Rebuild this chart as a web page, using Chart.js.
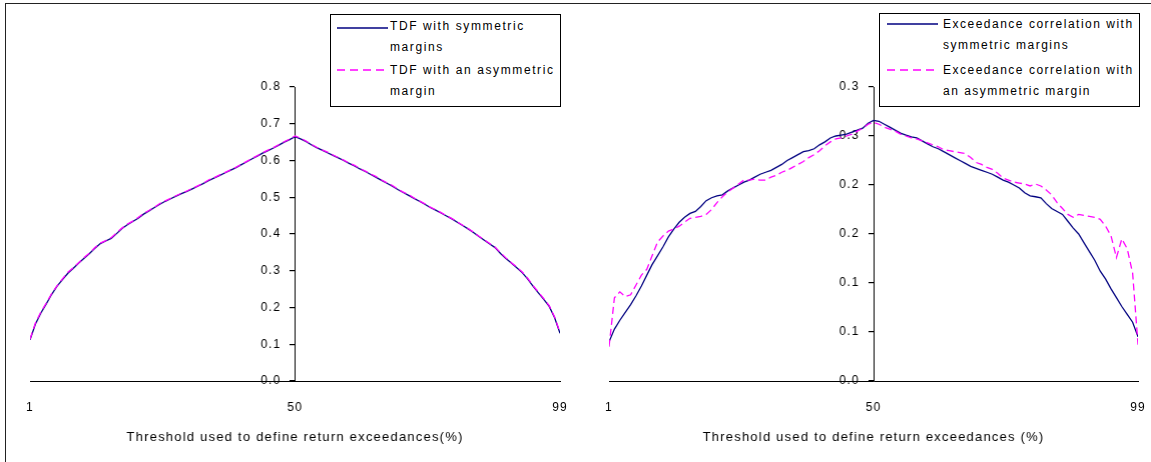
<!DOCTYPE html>
<html><head><meta charset="utf-8">
<script src="https://cdn.jsdelivr.net/npm/chart.js@4.4.1/dist/chart.umd.min.js"></script>
<style>
html,body{margin:0;padding:0;background:#fff;}
body{width:1151px;height:462px;position:relative;overflow:hidden;font-family:"Liberation Sans",Arial,sans-serif;}
.frame{position:absolute;left:5px;top:3px;width:1146px;height:459px;border-top:1px solid #222;border-left:1px solid #222;box-sizing:border-box;}
.panel{position:absolute;top:0;height:462px;}
.legend{position:absolute;border:1px solid #000;background:#fff;box-sizing:border-box;}
.txt{position:absolute;font-size:12px;line-height:21px;white-space:nowrap;color:#000;letter-spacing:1.6px;}
svg.sample{position:absolute;overflow:visible;}
</style></head><body>
<div class="frame"></div>
<div class="panel" id="p1" style="left:0px;width:580px;"><canvas id="c1"></canvas></div>
<div class="panel" id="p2" style="left:580px;width:571px;"><canvas id="c2"></canvas></div>

<div class="legend" style="left:330px;top:14px;width:231px;height:93px;"></div>
<svg class="sample" style="left:337px;top:26px;" width="51" height="4"><line x1="0" y1="2" x2="51" y2="2" stroke="#000080" stroke-width="1.5"/></svg>
<div class="txt" style="left:390px;top:15.5px;">TDF with symmetric<br>margins</div>
<svg class="sample" style="left:337px;top:68px;" width="51" height="4"><line x1="0" y1="2" x2="51" y2="2" stroke="#FF00FF" stroke-width="1.5" stroke-dasharray="8 5"/></svg>
<div class="txt" style="left:390px;top:59.5px;">TDF with an asymmetric<br>margin</div>

<div class="legend" style="left:879px;top:13px;width:261px;height:94px;"></div>
<svg class="sample" style="left:887px;top:22px;" width="51" height="4"><line x1="0" y1="2" x2="51" y2="2" stroke="#000080" stroke-width="1.5"/></svg>
<div class="txt" style="left:943px;top:13.5px;letter-spacing:1.5px;">Exceedance correlation with<br>symmetric margins</div>
<svg class="sample" style="left:887px;top:68px;" width="51" height="4"><line x1="0" y1="2" x2="51" y2="2" stroke="#FF00FF" stroke-width="1.5" stroke-dasharray="8 5"/></svg>
<div class="txt" style="left:943px;top:59.5px;letter-spacing:1.5px;">Exceedance correlation with<br>an asymmetric margin</div>

<script>
const thresholds = [1,2,3,4,5,6,7,8,9,10,11,12,13,14,15,16,17,18,19,20,21,22,23,24,25,26,27,28,29,30,31,32,33,34,35,36,37,38,39,40,41,42,43,44,45,46,47,48,49,50,51,52,53,54,55,56,57,58,59,60,61,62,63,64,65,66,67,68,69,70,71,72,73,74,75,76,77,78,79,80,81,82,83,84,85,86,87,88,89,90,91,92,93,94,95,96,97,98,99];
const xTickValues = [1, 50, 99];
const xTickLabels = ['1', '50', '99'];
const leftYTickValues = [0, 0.1, 0.2, 0.3, 0.4, 0.5, 0.6, 0.7, 0.8];
const leftYTickLabels = ['0.0', '0.1', '0.2', '0.3', '0.4', '0.5', '0.6', '0.7', '0.8'];
const rightYTickValues = [0, 0.05, 0.1, 0.15, 0.2, 0.25, 0.3];
const rightYTickLabels = ['0.0', '0.1', '0.1', '0.2', '0.2', '0.3', '0.3'];
const leftTitle = 'Threshold used to define return exceedances(%)';
const rightTitle = 'Threshold used to define return exceedances (%)';

const tdfSymmetric = [0.112,0.155,0.185,0.210,0.236,0.258,0.276,0.293,0.307,0.321,0.334,0.347,0.361,0.374,0.381,0.388,0.401,0.415,0.425,0.434,0.443,0.454,0.463,0.472,0.481,0.489,0.496,0.503,0.510,0.516,0.523,0.530,0.537,0.545,0.552,0.559,0.566,0.573,0.580,0.588,0.596,0.604,0.612,0.620,0.627,0.634,0.642,0.650,0.657,0.665,
0.659,0.652,0.643,0.635,0.628,0.621,0.614,0.607,0.600,0.592,0.585,0.577,0.570,0.562,0.554,0.546,0.538,0.530,0.521,0.513,0.505,0.497,0.489,0.481,0.472,0.465,0.457,0.449,0.441,0.432,0.423,0.414,0.404,0.393,0.383,0.373,0.363,0.347,0.333,0.321,0.308,0.295,0.278,0.258,0.240,0.222,0.203,0.172,0.130];
const tdfAsymmetric = [0.114,0.158,0.188,0.212,0.238,0.259,0.278,0.296,0.308,0.322,0.336,0.348,0.363,0.375,0.382,0.390,0.403,0.416,0.427,0.435,0.445,0.456,0.464,0.473,0.483,0.490,0.497,0.504,0.511,0.517,0.524,0.531,0.538,0.547,0.553,0.560,0.567,0.574,0.581,0.589,0.597,0.605,0.613,0.621,0.628,0.635,0.643,0.651,0.658,0.667,
0.661,0.653,0.644,0.636,0.629,0.623,0.615,0.608,0.601,0.593,0.587,0.578,0.571,0.563,0.556,0.547,0.539,0.532,0.522,0.514,0.507,0.498,0.490,0.482,0.473,0.466,0.458,0.450,0.442,0.433,0.424,0.415,0.405,0.394,0.384,0.374,0.364,0.349,0.335,0.322,0.310,0.297,0.280,0.260,0.242,0.224,0.205,0.174,0.132];
const corrSymmetric = [0.040,0.053,0.062,0.070,0.078,0.087,0.097,0.108,0.119,0.128,0.137,0.147,0.155,0.162,0.167,0.171,0.173,0.178,0.184,0.187,0.189,0.190,0.194,0.197,0.200,0.203,0.205,0.208,0.211,0.213,0.215,0.218,0.221,0.225,0.228,0.231,0.234,0.235,0.237,0.241,0.244,0.248,0.250,0.251,0.252,0.254,0.256,0.258,0.263,0.266,
0.265,0.262,0.259,0.256,0.253,0.251,0.249,0.248,0.245,0.242,0.239,0.237,0.234,0.231,0.228,0.225,0.222,0.219,0.217,0.215,0.213,0.211,0.208,0.205,0.203,0.200,0.197,0.192,0.189,0.188,0.187,0.181,0.176,0.173,0.170,0.163,0.156,0.150,0.141,0.132,0.123,0.112,0.104,0.094,0.085,0.076,0.068,0.060,0.045];
const corrAsymmetric = [0.035,0.085,0.091,0.086,0.088,0.098,0.108,0.114,0.128,0.142,0.148,0.153,0.155,0.158,0.162,0.166,0.167,0.168,0.170,0.175,0.182,0.188,0.193,0.197,0.201,0.205,0.205,0.206,0.205,0.205,0.208,0.210,0.213,0.215,0.218,0.221,0.224,0.228,0.231,0.235,0.240,0.244,0.247,0.248,0.250,0.252,0.255,0.258,0.262,0.264,
0.262,0.259,0.257,0.255,0.252,0.250,0.248,0.247,0.245,0.243,0.241,0.239,0.236,0.235,0.234,0.233,0.232,0.228,0.223,0.221,0.218,0.216,0.212,0.207,0.205,0.203,0.202,0.201,0.199,0.201,0.199,0.195,0.190,0.182,0.176,0.170,0.167,0.170,0.169,0.168,0.167,0.165,0.158,0.148,0.126,0.145,0.135,0.110,0.037];

Chart.defaults.font.family = '"Liberation Sans", Arial, sans-serif';
Chart.defaults.color = '#000';

const LABEL_GAP = 14;
const spacingPlugin = {
  id: 'spacing',
  beforeUpdate(c) { c.ctx.letterSpacing = '1.2px'; },
  beforeDraw(c) {
    c.ctx.letterSpacing = '1.2px';
    // place the centred y-axis labels to the left of its tick marks
    const s = c.scales.y;
    const items = s._computeLabelItems(c.chartArea);
    items.forEach(it => { it.options.translation[0] -= LABEL_GAP; });
    s._labelItems = items;
  }
};

function pts(vals) { return thresholds.map((t, i) => ({x: t, y: vals[i]})); }

function makeChart(id, sym, asym, yMax, yVals, yLabels, title, pad) {
  return new Chart(document.getElementById(id), {
    type: 'line',
    data: {
      datasets: [
        {label: 'sym', data: pts(sym), borderColor: '#000080', borderWidth: 1.3, pointRadius: 0, tension: 0, order: 1},
        {label: 'asym', data: pts(asym), borderColor: '#FF00FF', borderWidth: 1.3, borderDash: [7, 4], pointRadius: 0, tension: 0, order: 0}
      ]
    },
    options: {
      responsive: true, maintainAspectRatio: false, animation: false,
      layout: {padding: pad},
      plugins: {legend: {display: false}, tooltip: {enabled: false}},
      scales: {
        x: {
          type: 'linear', min: 1, max: 99,
          afterBuildTicks: s => { s.ticks = xTickValues.map(v => ({value: v})); },
          grid: {display: false, drawTicks: false},
          border: {display: true, color: '#000', width: 1},
          ticks: {autoSkip: false, maxRotation: 0, padding: 19, font: {size: 12}, callback: (v, i) => xTickLabels[i]},
          title: {display: true, text: title, font: {size: 13}, padding: {top: -4, bottom: 17}}
        },
        y: {
          type: 'linear', min: 0, max: yMax, position: {x: 50},
          afterBuildTicks: s => { s.ticks = yVals.map(v => ({value: v})); },
          grid: {display: true, drawOnChartArea: false, drawTicks: true, tickLength: 5, color: '#000', lineWidth: 1.2},
          border: {display: true, color: '#000', width: 1},
          ticks: {padding: 9, font: {size: 12}, callback: (v, i) => yLabels[i]}
        }
      }
    },
    plugins: [spacingPlugin]
  });
}

// horizontally align the plot area with the reference by moving/resizing the panel
function fitPanel(chart, panel, L, R) {
  for (let k = 0; k < 4; k++) {
    const ca = chart.chartArea;
    const left = parseFloat(panel.style.left), width = parseFloat(panel.style.width);
    const dL = L - (left + ca.left), dR = R - (left + ca.right);
    if (Math.abs(dL) < 0.5 && Math.abs(dR) < 0.5) break;
    panel.style.left = (left + dL) + 'px';
    panel.style.width = (width + dR - dL) + 'px';
    chart.resize();
  }
}

const chart1 = makeChart('c1', tdfSymmetric, tdfAsymmetric, 0.8, leftYTickValues, leftYTickLabels, leftTitle, {left: 30, right: 22, top: 87, bottom: 0});
const chart2 = makeChart('c2', corrSymmetric, corrAsymmetric, 0.3, rightYTickValues, rightYTickLabels, rightTitle, {left: 29, right: 14, top: 87, bottom: 0});
fitPanel(chart1, document.getElementById('p1'), 30, 559);
fitPanel(chart2, document.getElementById('p2'), 609, 1137);
</script>
</body></html>
